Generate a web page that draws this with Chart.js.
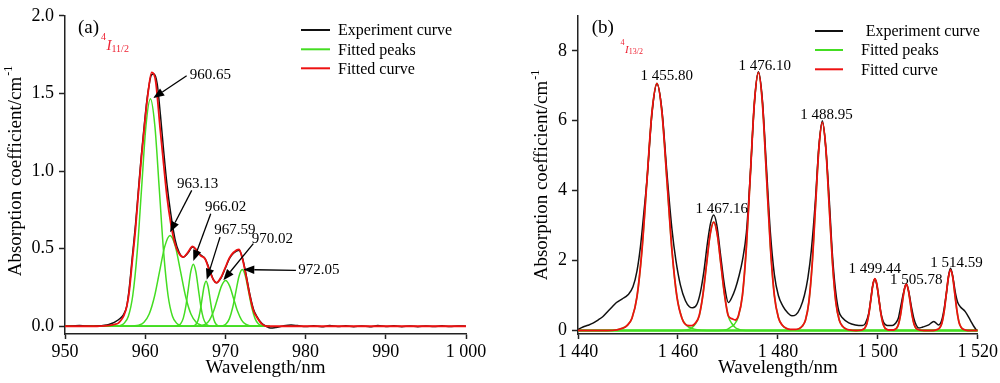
<!DOCTYPE html>
<html><head><meta charset="utf-8">
<script src="https://cdn.jsdelivr.net/npm/chart.js@4.4.1/dist/chart.umd.min.js"></script>
<style>
html,body{margin:0;padding:0;background:#fff;}
#wrap{position:relative;width:1000px;height:383px;overflow:hidden;background:#fff;}
canvas{position:absolute;top:0;}
#ca{left:0;} #cb{left:500px;}
</style></head><body>
<div id="wrap"><canvas id="ca" width="500" height="383"></canvas><canvas id="cb" width="500" height="383"></canvas></div>
<script>
// ---------------- Panel (a): 4I11/2 ----------------
const xTicksA = [950, 960, 970, 980, 990, 1000];
const xLabelsA = ['950', '960', '970', '980', '990', '1 000'];
const yTicksA = [0, 0.5, 1.0, 1.5, 2.0];
const yLabelsA = ['0.0', '0.5', '1.0', '1.5', '2.0'];

const expA = [[950,0],[951,0.002],[951.8,0.004],[952.5,0.001],[953.5,0],[954.5,0.003],[955.2,0.008],[955.8,0.018],[956.3,0.03],[956.86,0.05],[957.3,0.075],[957.7,0.13],[958.0,0.24],[958.4,0.45],[958.8,0.66],[959.14,0.87],[959.5,1.09],[959.89,1.3],[960.3,1.49],[960.8,1.62],[961.1,1.625],[961.5,1.56],[961.9,1.36],[962.3,1.13],[962.7,0.92],[963.2,0.72],[963.72,0.56],[964.2,0.48],[964.75,0.445],[965.3,0.47],[965.9,0.51],[966.4,0.49],[966.9,0.46],[967.46,0.435],[968.0,0.37],[968.5,0.3],[968.9,0.28],[969.5,0.315],[970.0,0.375],[970.5,0.435],[971.0,0.47],[971.7,0.49],[972.1,0.445],[972.44,0.37],[973.07,0.2],[973.5,0.11],[973.9,0.065],[974.5,0.02],[975.1,0],[975.6,-0.012],[976.3,-0.008],[977.2,0.002],[978.2,0.008],[979,0.004],[980,-0.002],[981,0.003],[982,-0.003],[983,0.004],[984,-0.002],[985,0.003],[986,-0.003],[987,0.002],[988,-0.003],[989,0.004],[990,-0.002],[991,0.003],[992,-0.003],[993,0.002],[994,-0.003],[995,0.002],[996,-0.002],[997,0.003],[998,-0.002],[999,0.002],[1000,0]];

const fitA = [[950,0],[954,0],[955,0.003],[955.6,0.006],[956.2,0.012],[956.65,0.02],[957.0,0.04],[957.35,0.07],[957.69,0.125],[958.0,0.22],[958.39,0.42],[958.8,0.63],[959.14,0.85],[959.5,1.07],[959.89,1.28],[960.3,1.48],[960.81,1.635],[961.3,1.58],[961.85,1.28],[962.25,1.07],[962.68,0.85],[963.2,0.66],[963.72,0.53],[964.2,0.47],[964.75,0.445],[965.3,0.475],[965.9,0.515],[966.4,0.49],[966.9,0.455],[967.46,0.435],[968.0,0.36],[968.5,0.3],[968.9,0.28],[969.5,0.32],[970.0,0.38],[970.5,0.44],[971.0,0.475],[971.7,0.495],[972.1,0.44],[972.44,0.36],[973.07,0.19],[973.5,0.1],[973.9,0.06],[974.5,0.017],[975.1,0],[1000,0]];

const peakA1 = [[950,0],[956.25,0],[956.8,0.004],[957.35,0.018],[957.9,0.064],[958.45,0.198],[959.0,0.476],[959.55,0.889],[960.1,1.293],[960.65,1.465],[961.2,1.293],[961.75,0.889],[962.3,0.476],[962.85,0.198],[963.4,0.064],[963.95,0.018],[964.5,0.004],[965.05,0],[975.5,0]];
const peakA2 = [[950,0],[957.9,0],[958.55,0.002],[959.2,0.007],[959.85,0.026],[960.5,0.079],[961.15,0.19],[961.8,0.355],[962.45,0.516],[963.1,0.585],[963.75,0.516],[964.4,0.355],[965.05,0.19],[965.7,0.079],[966.35,0.026],[967.0,0.007],[967.65,0.002],[968.3,0],[975.5,0]];
const peakA3 = [[950,0],[963.52,0],[963.83,0.001],[964.14,0.005],[964.45,0.018],[964.76,0.054],[965.07,0.13],[965.38,0.243],[965.69,0.353],[966.0,0.40],[966.31,0.353],[966.62,0.243],[966.93,0.13],[967.24,0.054],[967.55,0.018],[967.86,0.005],[968.17,0.001],[968.48,0],[975.5,0]];
const peakA4 = [[950,0],[965.59,0],[966.09,0.003],[966.34,0.013],[966.59,0.039],[966.84,0.094],[967.09,0.176],[967.34,0.256],[967.59,0.29],[967.84,0.256],[968.09,0.176],[968.34,0.094],[968.59,0.039],[968.84,0.013],[969.09,0.003],[969.59,0],[975.5,0]];
const peakA5 = [[950,0],[966.02,0],[967.02,0.003],[967.52,0.013],[968.02,0.04],[968.52,0.096],[969.02,0.179],[969.52,0.26],[970.02,0.295],[970.52,0.26],[971.02,0.179],[971.52,0.096],[972.02,0.04],[972.52,0.013],[973.02,0.003],[974.02,0],[975.5,0]];
const peakA6 = [[950,0],[968.9,0],[969.7,0.004],[970.1,0.016],[970.5,0.049],[970.9,0.119],[971.3,0.221],[971.7,0.322],[972.1,0.365],[972.5,0.322],[972.9,0.221],[973.3,0.119],[973.7,0.049],[974.1,0.016],[974.5,0.004],[974.9,0],[975.5,0]];

const peakLabelsA = ['960.65', '963.13', '966.02', '967.59', '970.02', '972.05'];

// ---------------- Panel (b): 4I13/2 ----------------
const xTicksB = [1440, 1460, 1480, 1500, 1520];
const xLabelsB = ['1 440', '1 460', '1 480', '1 500', '1 520'];
const yTicksB = [0, 2, 4, 6, 8];
const yLabelsB = ['0', '2', '4', '6', '8'];

const expB = [[1440,0.03],[1441,0.1],[1442,0.15],[1443,0.21],[1444,0.3],[1445,0.4],[1446,0.55],[1447,0.7],[1447.7,0.8],[1448.8,0.9],[1450,1.02],[1451,1.25],[1451.8,1.7],[1452.5,2.4],[1453.2,3.4],[1453.8,4.3],[1454.8,6.2],[1455.8,7.05],[1456.8,6.3],[1457.8,4.5],[1458.8,2.9],[1459.6,2.0],[1460.5,1.3],[1461.5,0.85],[1462.3,0.68],[1462.95,0.65],[1463.8,0.75],[1464.5,1.1],[1465.2,1.7],[1465.9,2.5],[1466.5,3.05],[1467.16,3.3],[1467.8,3.0],[1468.5,2.2],[1469.3,1.3],[1470.1,0.8],[1470.8,0.95],[1471.5,1.2],[1472.2,1.55],[1472.9,2.0],[1473.7,2.8],[1474.5,4.5],[1475.3,6.5],[1476.1,7.4],[1476.9,6.6],[1477.7,4.7],[1478.5,2.8],[1479.3,1.6],[1480.1,1.0],[1481,0.7],[1482,0.5],[1482.8,0.42],[1483.6,0.45],[1484.5,0.65],[1485.3,1.0],[1486.0,1.5],[1486.7,2.3],[1487.5,3.7],[1488.2,5.25],[1488.9,6.0],[1489.6,5.2],[1490.3,3.7],[1490.9,2.2],[1491.5,1.2],[1492.2,0.55],[1493,0.35],[1494.2,0.22],[1495.5,0.16],[1496.9,0.14],[1497.5,0.2],[1498.2,0.5],[1498.6,0.9],[1499.0,1.3],[1499.42,1.47],[1499.8,1.3],[1500.2,0.92],[1500.6,0.52],[1501.1,0.25],[1501.6,0.16],[1502.2,0.14],[1502.9,0.14],[1503.5,0.2],[1504.1,0.35],[1504.6,0.7],[1505.1,1.05],[1505.7,1.32],[1506.2,1.1],[1506.7,0.7],[1507.2,0.35],[1507.7,0.15],[1508.2,0.07],[1509,0.1],[1510.2,0.16],[1511.2,0.26],[1512.2,0.16],[1512.8,0.3],[1513.3,0.65],[1513.8,1.15],[1514.2,1.6],[1514.55,1.78],[1515,1.55],[1515.5,1.1],[1516,0.8],[1516.5,0.68],[1517.5,0.54],[1518.5,0.3],[1519.3,0.1],[1519.8,0]];

const fitB = [[1440,0],[1445.8,0],[1447.8,0.02],[1448.8,0.06],[1449.8,0.14],[1450.8,0.35],[1451.8,0.96],[1452.8,2.30],[1453.8,4.29],[1454.8,6.24],[1455.8,7.07],[1456.8,6.24],[1457.8,4.29],[1458.8,2.30],[1459.8,0.96],[1460.8,0.35],[1461.8,0.15],[1462.8,0.14],[1463.54,0.22],[1464.26,0.43],[1464.99,1.01],[1465.71,1.88],[1466.44,2.74],[1467.16,3.1],[1467.88,2.74],[1468.61,1.88],[1469.34,1.01],[1470.06,0.43],[1470.79,0.34],[1471.51,0.3],[1472.1,0.42],[1472.9,1.0],[1473.7,2.40],[1474.5,4.48],[1475.3,6.51],[1476.1,7.38],[1476.9,6.51],[1477.7,4.48],[1478.5,2.40],[1479.3,1.0],[1480.1,0.37],[1480.9,0.15],[1481.7,0.06],[1482.5,0.03],[1483.5,0.03],[1484.18,0.05],[1484.85,0.12],[1485.53,0.30],[1486.2,0.81],[1486.88,1.93],[1487.55,3.61],[1488.23,5.25],[1488.9,5.95],[1489.58,5.25],[1490.25,3.61],[1490.93,1.93],[1491.6,0.81],[1492.28,0.30],[1492.95,0.12],[1493.63,0.045],[1494.3,0.018],[1495.65,0],[1496.62,0.012],[1497.02,0.03],[1497.42,0.074],[1497.82,0.20],[1498.22,0.48],[1498.62,0.90],[1499.02,1.31],[1499.42,1.48],[1499.82,1.31],[1500.22,0.90],[1500.62,0.48],[1501.02,0.20],[1501.42,0.074],[1501.82,0.03],[1502.22,0.015],[1502.6,0.015],[1502.97,0.015],[1503.36,0.027],[1503.75,0.066],[1504.14,0.18],[1504.53,0.43],[1504.92,0.81],[1505.31,1.17],[1505.7,1.33],[1506.09,1.17],[1506.48,0.81],[1506.87,0.43],[1507.26,0.18],[1507.65,0.066],[1508.04,0.027],[1508.43,0.011],[1509.21,0],[1510.74,0],[1511.59,0.014],[1512.01,0.035],[1512.44,0.087],[1512.86,0.23],[1513.29,0.56],[1513.71,1.05],[1514.14,1.53],[1514.56,1.73],[1514.99,1.53],[1515.41,1.05],[1515.84,0.56],[1516.26,0.23],[1516.69,0.087],[1517.11,0.035],[1517.54,0.014],[1518.39,0],[1520,0]];

const peakB1 = [[1440,0],[1445.8,0],[1447.8,0.02],[1448.8,0.06],[1449.8,0.14],[1450.8,0.35],[1451.8,0.96],[1452.8,2.30],[1453.8,4.29],[1454.8,6.24],[1455.8,7.07],[1456.8,6.24],[1457.8,4.29],[1458.8,2.30],[1459.8,0.96],[1460.8,0.35],[1461.8,0.14],[1462.8,0.06],[1463.8,0.02],[1465.8,0],[1520,0]];
const peakB2 = [[1440,0],[1459.91,0],[1461.36,0.009],[1462.09,0.03],[1462.81,0.08],[1463.54,0.2],[1464.26,0.42],[1464.99,1.01],[1465.71,1.88],[1466.44,2.74],[1467.16,3.1],[1467.88,2.74],[1468.61,1.88],[1469.34,1.01],[1470.06,0.42],[1470.79,0.2],[1471.51,0.08],[1472.24,0.03],[1472.96,0.009],[1474.41,0],[1520,0]];
const peakB3 = [[1440,0],[1468.1,0],[1469.7,0.022],[1470.5,0.09],[1471.3,0.18],[1472.1,0.4],[1472.9,1.0],[1473.7,2.40],[1474.5,4.48],[1475.3,6.51],[1476.1,7.38],[1476.9,6.51],[1477.7,4.48],[1478.5,2.40],[1479.3,1.0],[1480.1,0.37],[1480.9,0.15],[1481.7,0.06],[1482.5,0.022],[1484.1,0],[1520,0]];
const peakB4 = [[1440,0],[1482.15,0],[1483.5,0.018],[1484.18,0.045],[1484.85,0.12],[1485.53,0.30],[1486.2,0.81],[1486.88,1.93],[1487.55,3.61],[1488.23,5.25],[1488.9,5.95],[1489.58,5.25],[1490.25,3.61],[1490.93,1.93],[1491.6,0.81],[1492.28,0.30],[1492.95,0.12],[1493.63,0.045],[1494.3,0.018],[1495.65,0],[1520,0]];
const peakB5 = [[1440,0],[1495.82,0],[1496.62,0.012],[1497.02,0.03],[1497.42,0.074],[1497.82,0.20],[1498.22,0.48],[1498.62,0.90],[1499.02,1.31],[1499.42,1.48],[1499.82,1.31],[1500.22,0.90],[1500.62,0.48],[1501.02,0.20],[1501.42,0.074],[1501.82,0.03],[1502.22,0.012],[1503.02,0],[1520,0]];
const peakB6 = [[1440,0],[1502.19,0],[1502.97,0.011],[1503.36,0.027],[1503.75,0.066],[1504.14,0.18],[1504.53,0.43],[1504.92,0.81],[1505.31,1.17],[1505.7,1.33],[1506.09,1.17],[1506.48,0.81],[1506.87,0.43],[1507.26,0.18],[1507.65,0.066],[1508.04,0.027],[1508.43,0.011],[1509.21,0],[1520,0]];
const peakB7 = [[1440,0],[1510.74,0],[1511.59,0.014],[1512.01,0.035],[1512.44,0.087],[1512.86,0.23],[1513.29,0.56],[1513.71,1.05],[1514.14,1.53],[1514.56,1.73],[1514.99,1.53],[1515.41,1.05],[1515.84,0.56],[1516.26,0.23],[1516.69,0.087],[1517.11,0.035],[1517.54,0.014],[1518.39,0],[1520,0]];

const peakLabelsB = ['1 455.80', '1 467.16', '1 476.10', '1 488.95', '1 499.44', '1 505.78', '1 514.59'];

const legendLabels = ['Experiment curve', 'Fitted peaks', 'Fitted curve'];

// ---------------- styling / drawing ----------------
const FONT = '"Liberation Serif", "Times New Roman", Times, serif';
const C_EXP = '#111111', C_PEAK = '#44dd22', C_FIT = '#ee1111', C_LBL = '#ee2233';

const toXY = a => a.map(p => ({x: p[0], y: p[1]}));
function line(data, color, order, width) {
  return { data: toXY(data), borderColor: color, borderWidth: width, pointRadius: 0,
           fill: false, cubicInterpolationMode: 'monotone', tension: 0.4, order: order };
}

// annotation layout (positions in data units for arrows/labels, pixels for legend)
const ANNOT = {
  ca: {
    yTitle: {x: 16, y: 171},
    panel: {text: '(a)', x: 78, y: 28},
    level: {sup: '4', main: 'I', sub: '11/2', x: 101, yMain: 49.5, supSize: 10, mainSize: 15, subSize: 10},
    legend: {x0: 301, x1: 330, tx: [338, 338, 338], ys: [30, 49.3, 68.3]},
    arrows: [
      {t: peakLabelsA[0], lx: 965.55, ly: 1.62, tail: [965.17, 1.614], head: [961.0, 1.47]},
      {t: peakLabelsA[1], lx: 963.95, ly: 0.918, tail: [965.8, 0.875], head: [963.1, 0.605]},
      {t: peakLabelsA[2], lx: 967.46, ly: 0.767, tail: [968.17, 0.725], head: [966.0, 0.42]},
      {t: peakLabelsA[3], lx: 968.62, ly: 0.617, tail: [969.33, 0.574], head: [967.67, 0.30]},
      {t: peakLabelsA[4], lx: 973.28, ly: 0.564, tail: [973.48, 0.532], head: [969.74, 0.296]},
      {t: peakLabelsA[5], lx: 979.09, ly: 0.36, tail: [978.8, 0.36], head: [972.23, 0.365]}
    ]
  },
  cb: {
    yTitle: {x: 42.5, y: 175},
    panel: {text: '(b)', x: 91.7, y: 28},
    level: {sup: '4', main: 'I', sub: '13/2', x: 120.5, yMain: 52.5, supSize: 8, mainSize: 11, subSize: 8},
    legend: {x0: 315, x1: 343, tx: [365.7, 361, 361], ys: [31, 50, 69.3]},
    labels: [
      {t: peakLabelsB[0], x: 1457.74, y: 7.28},
      {t: peakLabelsB[1], x: 1468.78, y: 3.46},
      {t: peakLabelsB[2], x: 1477.37, y: 7.57},
      {t: peakLabelsB[3], x: 1489.74, y: 6.17},
      {t: peakLabelsB[4], x: 1499.38, y: 1.75},
      {t: peakLabelsB[5], x: 1507.71, y: 1.44},
      {t: peakLabelsB[6], x: 1515.75, y: 1.92}
    ]
  }
};

function drawArrow(ctx, x1, y1, x2, y2) {
  const ang = Math.atan2(y2 - y1, x2 - x1);
  const L = 11, W = 4.2;
  const bx = x2 - L * Math.cos(ang), by = y2 - L * Math.sin(ang);
  ctx.beginPath(); ctx.moveTo(x1, y1); ctx.lineTo(bx, by); ctx.lineWidth = 1.3; ctx.strokeStyle = '#000'; ctx.stroke();
  ctx.beginPath();
  ctx.moveTo(x2, y2);
  ctx.lineTo(bx + W * Math.sin(ang), by - W * Math.cos(ang));
  ctx.lineTo(bx - W * Math.sin(ang), by + W * Math.cos(ang));
  ctx.closePath(); ctx.fillStyle = '#000'; ctx.fill();
}

const annotPlugin = {
  id: 'annot',
  afterDraw(chart) {
    const o = ANNOT[chart.canvas.id]; if (!o) return;
    const ctx = chart.ctx, xs = chart.scales.x, ys = chart.scales.y;
    ctx.save();
    // y axis title with superscript
    ctx.save();
    ctx.translate(o.yTitle.x, o.yTitle.y); ctx.rotate(-Math.PI / 2);
    ctx.fillStyle = '#000'; ctx.textBaseline = 'middle'; ctx.textAlign = 'left';
    const main = 'Absorption coefficient/cm', sup = '-1';
    ctx.font = '19px ' + FONT; const w1 = ctx.measureText(main).width;
    ctx.font = '12px ' + FONT; const w2 = ctx.measureText(sup).width;
    const x0 = -(w1 + w2 + 1) / 2;
    ctx.font = '19px ' + FONT; ctx.fillText(main, x0, 0);
    ctx.font = '12px ' + FONT; ctx.fillText(sup, x0 + w1 + 1, -7);
    ctx.restore();
    // panel letter
    ctx.fillStyle = '#000'; ctx.textBaseline = 'middle'; ctx.textAlign = 'left';
    ctx.font = '19px ' + FONT; ctx.fillText(o.panel.text, o.panel.x, o.panel.y);
    // energy level label
    const lv = o.level;
    ctx.fillStyle = C_LBL; ctx.textBaseline = 'alphabetic';
    ctx.font = lv.supSize + 'px ' + FONT; ctx.fillText(lv.sup, lv.x, lv.yMain - lv.mainSize * 0.65);
    const ws = ctx.measureText(lv.sup).width;
    ctx.font = 'italic ' + lv.mainSize + 'px ' + FONT; ctx.fillText(lv.main, lv.x + ws + 0.5, lv.yMain);
    const wm = ctx.measureText(lv.main).width;
    ctx.font = lv.subSize + 'px ' + FONT; ctx.fillText(lv.sub, lv.x + ws + wm + 0.5, lv.yMain + lv.subSize * 0.2);
    // legend
    const cols = [C_EXP, C_PEAK, C_FIT];
    ctx.textBaseline = 'middle'; ctx.font = '16px ' + FONT;
    for (let i = 0; i < 3; i++) {
      const y = o.legend.ys[i];
      ctx.beginPath(); ctx.moveTo(o.legend.x0, y); ctx.lineTo(o.legend.x1, y);
      ctx.strokeStyle = cols[i]; ctx.lineWidth = 2; ctx.stroke();
      ctx.fillStyle = '#000'; ctx.fillText(legendLabels[i], o.legend.tx[i], y + 1);
    }
    // arrows with labels (a)
    ctx.font = '15px ' + FONT; ctx.fillStyle = '#000';
    (o.arrows || []).forEach(a => {
      ctx.textAlign = 'left'; ctx.textBaseline = 'middle';
      ctx.fillText(a.t, xs.getPixelForValue(a.lx), ys.getPixelForValue(a.ly));
      drawArrow(ctx, xs.getPixelForValue(a.tail[0]), ys.getPixelForValue(a.tail[1]),
                xs.getPixelForValue(a.head[0]), ys.getPixelForValue(a.head[1]));
    });
    // peak labels (b)
    (o.labels || []).forEach(l => {
      ctx.textAlign = 'center'; ctx.textBaseline = 'middle'; ctx.fillStyle = '#000';
      ctx.fillText(l.t, xs.getPixelForValue(l.x), ys.getPixelForValue(l.y));
    });
    ctx.restore();
  }
};

function makeChart(id, cfg) {
  const tickFont = {family: FONT, size: 18};
  return new Chart(document.getElementById(id), {
    type: 'line',
    data: {datasets: cfg.datasets},
    options: {
      responsive: false, animation: false, devicePixelRatio: 1,
      layout: {padding: cfg.pad},
      plugins: {legend: {display: false}, tooltip: {enabled: false}},
      scales: {
        x: {
          type: 'linear', min: cfg.xmin, max: cfg.xmax,
          afterFit: s => { s.height = 49; },
          afterBuildTicks: s => { s.ticks = cfg.xTicks.map(v => ({value: v})); },
          ticks: {callback: v => cfg.xLabels[cfg.xTicks.indexOf(v)], font: tickFont, color: '#000', padding: 2, maxRotation: 0, autoSkip: false},
          grid: {drawOnChartArea: false, drawTicks: true, tickLength: 5, tickColor: '#222', tickWidth: 1.5},
          border: {display: true, color: '#222', width: 1.5},
          title: {display: true, text: 'Wavelength/nm', font: {family: FONT, size: 19}, color: '#000', padding: {top: 0, bottom: 4}}
        },
        y: {
          type: 'linear', min: cfg.ymin, max: cfg.ymax,
          afterFit: s => { s.width = cfg.yWidth; },
          afterBuildTicks: s => { s.ticks = cfg.yTicks.map(v => ({value: v})); },
          ticks: {callback: v => cfg.yLabels[cfg.yTicks.indexOf(v)], font: tickFont, color: '#000', padding: 5, autoSkip: false},
          grid: {drawOnChartArea: false, drawTicks: true, tickLength: 6, tickColor: '#222', tickWidth: 1.5},
          border: {display: true, color: '#222', width: 1.5},
          title: {display: false}
        }
      }
    },
    plugins: [annotPlugin]
  });
}

makeChart('ca', {
  pad: {left: 0, right: 34, top: 15, bottom: 0}, yWidth: 65,
  xmin: 950, xmax: 1000, ymin: -0.05, ymax: 2.0,
  xTicks: xTicksA, xLabels: xLabelsA, yTicks: yTicksA, yLabels: yLabelsA,
  datasets: [
    line(fitA, C_FIT, 0, 1.8),
    line(expA, C_EXP, 1, 1.5),
    line(peakA1, C_PEAK, 2, 1.5), line(peakA2, C_PEAK, 3, 1.5), line(peakA3, C_PEAK, 4, 1.5),
    line(peakA4, C_PEAK, 5, 1.5), line(peakA5, C_PEAK, 6, 1.5), line(peakA6, C_PEAK, 7, 1.5)
  ]
});

makeChart('cb', {
  pad: {left: 0, right: 21, top: 15, bottom: 0}, yWidth: 78,
  xmin: 1440, xmax: 1520, ymin: -0.1, ymax: 9,
  xTicks: xTicksB, xLabels: xLabelsB, yTicks: yTicksB, yLabels: yLabelsB,
  datasets: [
    line(fitB, C_FIT, 0, 1.8),
    line(expB, C_EXP, 1, 1.5),
    line(peakB1, C_PEAK, 2, 1.5), line(peakB2, C_PEAK, 3, 1.5), line(peakB3, C_PEAK, 4, 1.5),
    line(peakB4, C_PEAK, 5, 1.5), line(peakB5, C_PEAK, 6, 1.5), line(peakB6, C_PEAK, 7, 1.5),
    line(peakB7, C_PEAK, 8, 1.5)
  ]
});
</script>
</body></html>
